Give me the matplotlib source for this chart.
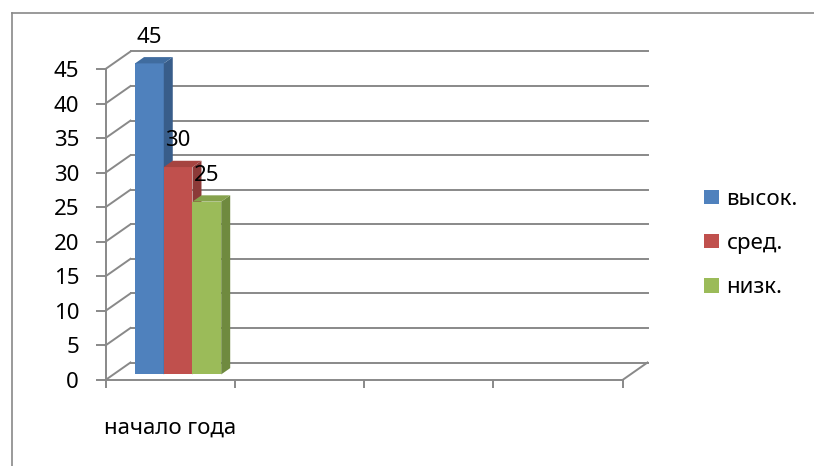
import numpy as np
import matplotlib
matplotlib.use("Agg")
import matplotlib.pyplot as plt
from matplotlib.patches import Polygon, Rectangle
from matplotlib.lines import Line2D

plt.rcParams['font.family'] = ['Noto Sans', 'DejaVu Sans']

# ---- data ----
categories = ["начало года", "", "", ""]
series_names = ["высок.", "сред.", "низк."]
high_vals = [45, np.nan, np.nan, np.nan]
mid_vals = [30, np.nan, np.nan, np.nan]
low_vals = [25, np.nan, np.nan, np.nan]
y_ticks = [0, 5, 10, 15, 20, 25, 30, 35, 40, 45]

series_values = [high_vals, mid_vals, low_vals]
front_colors = ["#4F81BD", "#C0504D", "#9BBB59"]
side_colors = ["#385D8A", "#8C3A38", "#6F8A3F"]
top_colors = ["#406C9F", "#A64440", "#86A24C"]
grid_col = "#898989"
FS = 16

W, H = 814, 466
fig = plt.figure(figsize=(W / 100, H / 100), dpi=100)

# outer chart border
fig.add_artist(Line2D([12 / W, 12 / W], [0, 1 - 13 / H], color=grid_col, lw=1.2))
fig.add_artist(Line2D([12 / W, 1], [1 - 13 / H, 1 - 13 / H], color=grid_col, lw=1.2))

# front plane of the 3-D plot
x_left, x_right = 105.5, 622.5
y_zero, y_top = 380, 69
ax = fig.add_axes([x_left / W, 1 - y_zero / H, (x_right - x_left) / W, (y_zero - y_top) / H])
ncat = len(categories)
ymax = y_ticks[-1]
ax.set_xlim(0, ncat)
ax.set_ylim(0, ymax)

# depth offsets (oblique projection) in data units
DX = 25 / (x_right - x_left) * ncat
DY = 17.5 / (y_zero - y_top) * ymax

for s in ["top", "right"]:
    ax.spines[s].set_visible(False)
for s in ["left", "bottom"]:
    ax.spines[s].set_color(grid_col)
    ax.spines[s].set_linewidth(1.4)

ax.set_yticks(y_ticks)
ax.set_yticklabels([str(t) for t in y_ticks], fontsize=FS)
ax.tick_params(axis="y", direction="out", length=7, width=1.4, color=grid_col, pad=12)
ax.set_xticks(np.arange(ncat + 1))
ax.set_xticklabels([""] * (ncat + 1))
ax.tick_params(axis="x", which="major", direction="out", length=6, width=1.4, color=grid_col)
ax.set_xticks(np.arange(ncat) + 0.5, minor=True)
ax.set_xticklabels(categories, minor=True, fontsize=FS)
ax.tick_params(axis="x", which="minor", length=0, pad=27)

# back wall gridlines and left wall diagonals
for t in y_ticks:
    ax.add_line(Line2D([DX, ncat + DX], [t + DY, t + DY], color=grid_col, lw=1.4, clip_on=False, zorder=1))
    ax.add_line(Line2D([0, DX], [t, t + DY], color=grid_col, lw=1.4, clip_on=False, zorder=1))
# floor right edge
ax.add_line(Line2D([ncat, ncat + DX], [0, DY], color=grid_col, lw=1.4, clip_on=False, zorder=1))

# bars
gap = 1.5
bw = 1 / (len(series_names) + gap)
f0, f1 = 0.32, 0.68
for i, vals in enumerate(series_values):
    for c, v in enumerate(vals):
        if np.isnan(v):
            continue
        x0 = c + gap / 2 * bw + i * bw + f0 * DX
        y0 = f0 * DY
        ddx, ddy = (f1 - f0) * DX, (f1 - f0) * DY
        z = 3 + i
        ax.add_patch(Rectangle((x0, y0), bw, v, facecolor=front_colors[i], edgecolor="none",
                               clip_on=False, zorder=z))
        ax.add_patch(Polygon([(x0 + bw, y0), (x0 + bw + ddx, y0 + ddy), (x0 + bw + ddx, y0 + v + ddy),
                              (x0 + bw, y0 + v)], closed=True, facecolor=side_colors[i],
                             edgecolor="none", clip_on=False, zorder=z))
        ax.add_patch(Polygon([(x0, y0 + v), (x0 + bw, y0 + v), (x0 + bw + ddx, y0 + v + ddy),
                              (x0 + ddx, y0 + v + ddy)], closed=True, facecolor=top_colors[i],
                             edgecolor="none", clip_on=False, zorder=z))
        ax.annotate(f"{v:g}", (x0 + bw / 2, y0 + v), xytext=(0, 19), textcoords="offset points",
                    ha="center", va="center", fontsize=FS, zorder=10, annotation_clip=False)

# legend
handles = [Rectangle((0, 0), 1, 1, facecolor=c, edgecolor="none") for c in front_colors]
fig.legend(handles, series_names, loc="center left", bbox_to_anchor=(704 / W, 1 - 243.5 / H),
           frameon=False, fontsize=FS, handlelength=0.68, handleheight=0.63, handletextpad=0.33,
           labelspacing=1.05, borderpad=0, borderaxespad=0)

fig.savefig("out.png", dpi=100)
